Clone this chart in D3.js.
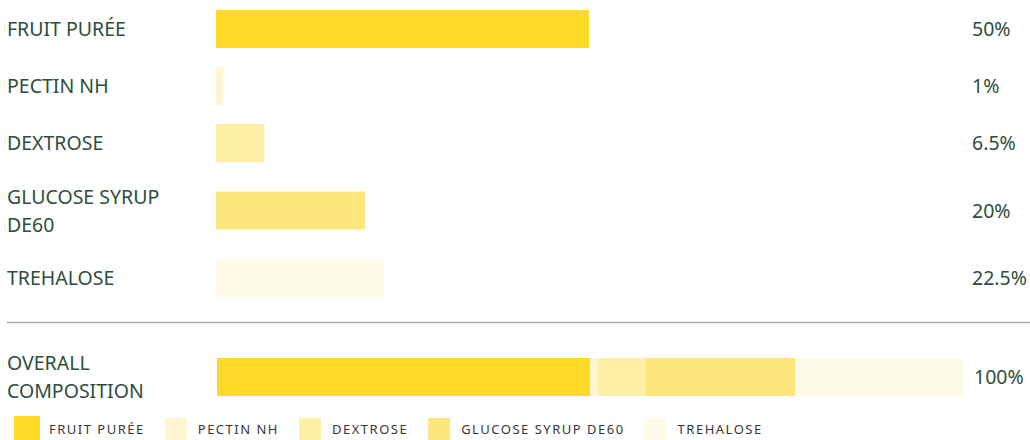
<!DOCTYPE html>
<html>
<head>
<meta charset="utf-8">
<script src="https://cdn.jsdelivr.net/npm/d3@7"></script>
<style>
    body { margin: 0; background: #fff; }
    .label, .value { font-family: "Noto Sans", "Open Sans", sans-serif; font-size: 19.5px; fill: #2e4d3b; }
    .legend-text { font-family: "Noto Sans", "Open Sans", sans-serif; font-size: 13px; letter-spacing: 1.5px; fill: #363636; }
</style>
</head>
<body>
<div id="chart"></div>
<script>

// ingredient data
const ingredients = ["FRUIT PURÉE", "PECTIN NH", "DEXTROSE", "GLUCOSE SYRUP DE60", "TREHALOSE"];
const percentages = [50, 1, 6.5, 20, 22.5];
const totalLabel = "OVERALL COMPOSITION";

// palette
const palette = ["#fdda25", "#fef6d3", "#feefa6", "#fde77c", "#fefae8"];

let width = 1030, height = 440;
let labelX = 7, labelWidth = 190, lineH = 28, barH = 38, rowGap = 19, sepGap = 25;

let svg = d3.select("#chart").append("svg")
    .attr("width", width)
    .attr("height", height);

let x = d3.scaleLinear()
    .domain([0, 100])
    .range([216, 962]);

let color = d3.scaleOrdinal()
    .domain(ingredients)
    .range(palette);

// wrap a label into lines that fit maxWidth
function wrap(text, maxWidth) {
    let words = text.text().split(" ");
    text.text(null);
    let lines = [], line = [];
    let t = text.append("tspan");
    words.forEach(w => {
        line.push(w);
        t.text(line.join(" "));
        if (t.node().getComputedTextLength() > maxWidth && line.length > 1) {
            line.pop();
            lines.push(line.join(" "));
            line = [w];
        }
    });
    lines.push(line.join(" "));
    text.text(null);
    return lines;
}

// draw a label block, return the row height
function drawLabel(g, txt, y0) {
    let text = g.append("text").attr("class", "label").text(txt);
    let lines = wrap(text, labelWidth);
    let h = Math.max(barH, lines.length * lineH + 3);
    let cy = y0 + h / 2;
    lines.forEach((l, i) => {
        text.append("tspan")
            .attr("x", labelX)
            .attr("y", cy + (i - (lines.length - 1) / 2) * lineH)
            .attr("dy", "0.36em")
            .text(l);
    });
    return h;
}

// rows
let y0 = 10;
let rows = svg.append("g").attr("class", "rows");
ingredients.forEach((name, i) => {
    let g = rows.append("g");
    let h = drawLabel(g, name, y0);
    g.append("rect")
        .attr("x", x(0))
        .attr("y", y0 + (h - barH) / 2)
        .attr("width", x(percentages[i]) - x(0))
        .attr("height", barH)
        .attr("fill", color(name));
    g.append("text")
        .attr("class", "value")
        .attr("x", x(100) + 10)
        .attr("y", y0 + h / 2)
        .attr("dy", "0.36em")
        .text(percentages[i] + "%");
    y0 += h + rowGap;
});
y0 = y0 - rowGap + sepGap;

// separator
svg.append("line")
    .attr("x1", labelX)
    .attr("x2", width)
    .attr("y1", y0 + 0.5)
    .attr("y2", y0 + 0.5)
    .attr("stroke", "#a9adab")
    .attr("stroke-width", 1.5);
y0 += sepGap + 0.5;

// overall stacked bar
let total = svg.append("g").attr("class", "total");
let th = drawLabel(total, totalLabel, y0);
let stacked = [];
let acc = 0;
ingredients.forEach((name, i) => {
    stacked.push({name: name, start: acc, end: acc + percentages[i]});
    acc += percentages[i];
});
total.selectAll("rect")
    .data(stacked)
    .enter()
    .append("rect")
    .attr("x", d => x(d.start) + 1)
    .attr("y", y0 + (th - barH) / 2)
    .attr("width", d => x(d.end) - x(d.start))
    .attr("height", barH)
    .attr("fill", d => color(d.name));
total.append("text")
    .attr("class", "value")
    .attr("x", x(100) + 12)
    .attr("y", y0 + th / 2)
    .attr("dy", "0.36em")
    .text(d3.sum(percentages) + "%");

// legend
let legend = svg.append("g").attr("class", "legend");
let legendY = 429;
let cx = 27;
ingredients.forEach((name, i) => {
    let s = i === 0 ? 26 : 22;
    legend.append("rect")
        .attr("x", cx - s / 2)
        .attr("y", legendY - s / 2)
        .attr("width", s)
        .attr("height", s)
        .attr("fill", color(name));
    let t = legend.append("text")
        .attr("class", "legend-text")
        .attr("x", cx + 22)
        .attr("y", legendY)
        .attr("dy", "0.36em")
        .text(name);
    cx += 22 + t.node().getComputedTextLength() + 20 + 11;
});

</script>
</body>
</html>
